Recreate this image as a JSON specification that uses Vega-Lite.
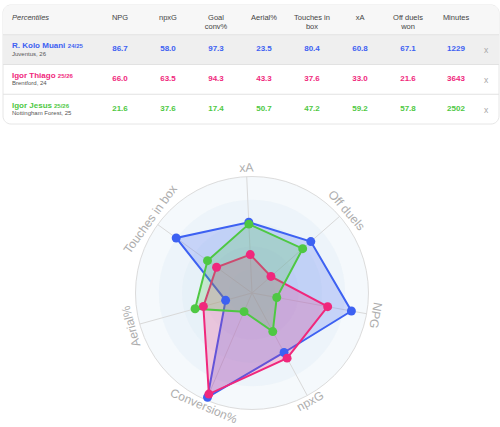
{
  "$schema": "https://vega.github.io/schema/vega-lite/v6.json",
  "padding": {"left": 2, "top": 4, "right": 2, "bottom": 0},
  "spacing": 4,
  "bounds": "flush",
  "background": "#ffffff",
  "config": {"view": {"stroke": null}, "font": "Liberation Sans", "text": {"font": "Liberation Sans"}},
  "datasets": {
    "players": [
      {"player": "R. Kolo Muani", "season": "24/25", "team": "Juventus, 26", "minutes": 1229},
      {"player": "Igor Thiago", "season": "25/26", "team": "Brentford, 24", "minutes": 3643},
      {"player": "Igor Jesus", "season": "25/26", "team": "Nottingham Forest, 25", "minutes": 2502}
    ],
    "columns": [
      {"col": "NPG", "head": "NPG"},
      {"col": "npxG", "head": "npxG"},
      {"col": "Goal conv%", "head": "Goal\nconv%"},
      {"col": "Aerial%", "head": "Aerial%"},
      {"col": "Touches in box", "head": "Touches in\nbox"},
      {"col": "xA", "head": "xA"},
      {"col": "Off duels won", "head": "Off duels\nwon"},
      {"col": "Minutes", "head": "Minutes"}
    ],
    "axes": [
      {"col": "xA", "label": "xA"},
      {"col": "Off duels won", "label": "Off duels"},
      {"col": "NPG", "label": "NPG"},
      {"col": "npxG", "label": "npxG"},
      {"col": "Goal conv%", "label": "Conversion%"},
      {"col": "Aerial%", "label": "Aerial%"},
      {"col": "Touches in box", "label": "Touches in box"}
    ],
    "stats": [
      {"player": "R. Kolo Muani", "col": "NPG", "value": 86.7},
      {"player": "R. Kolo Muani", "col": "npxG", "value": 58.0},
      {"player": "R. Kolo Muani", "col": "Goal conv%", "value": 97.3},
      {"player": "R. Kolo Muani", "col": "Aerial%", "value": 23.5},
      {"player": "R. Kolo Muani", "col": "Touches in box", "value": 80.4},
      {"player": "R. Kolo Muani", "col": "xA", "value": 60.8},
      {"player": "R. Kolo Muani", "col": "Off duels won", "value": 67.1},
      {"player": "Igor Thiago", "col": "NPG", "value": 66.0},
      {"player": "Igor Thiago", "col": "npxG", "value": 63.5},
      {"player": "Igor Thiago", "col": "Goal conv%", "value": 94.3},
      {"player": "Igor Thiago", "col": "Aerial%", "value": 43.3},
      {"player": "Igor Thiago", "col": "Touches in box", "value": 37.6},
      {"player": "Igor Thiago", "col": "xA", "value": 33.0},
      {"player": "Igor Thiago", "col": "Off duels won", "value": 21.6},
      {"player": "Igor Jesus", "col": "NPG", "value": 21.6},
      {"player": "Igor Jesus", "col": "npxG", "value": 37.6},
      {"player": "Igor Jesus", "col": "Goal conv%", "value": 17.4},
      {"player": "Igor Jesus", "col": "Aerial%", "value": 50.7},
      {"player": "Igor Jesus", "col": "Touches in box", "value": 47.2},
      {"player": "Igor Jesus", "col": "xA", "value": 59.2},
      {"player": "Igor Jesus", "col": "Off duels won", "value": 57.8}
    ],
    "rings": [{"ring": 100}, {"ring": 80}, {"ring": 60}, {"ring": 40}, {"ring": 20}]
  },
  "vconcat": [
    {
      "width": 496,
      "height": 119,
      "encoding": {
        "x": {"field": "col", "type": "nominal", "axis": null, "scale": {"type": "band", "domain": ["NPG", "npxG", "Goal conv%", "Aerial%", "Touches in box", "xA", "Off duels won", "Minutes"], "range": [93, 477], "paddingInner": 0, "paddingOuter": 0}},
        "y": {"field": "player", "type": "nominal", "axis": null, "scale": {"type": "band", "domain": ["Percentiles", "R. Kolo Muani", "Igor Thiago", "Igor Jesus"], "paddingInner": 0, "paddingOuter": 0}}
      },
      "layer": [
        {
          "data": {"values": [{"player": "Percentiles"}]},
          "mark": {"type": "rect", "fill": "#ffffff", "cornerRadius": 8, "stroke": "#e6e6e6", "strokeWidth": 1},
          "encoding": {"x": null, "y": null}
        },
        {
          "data": {"values": [{"player": "Percentiles"}]},
          "mark": {"type": "rect", "fill": "#f7f7f7", "cornerRadiusTopLeft": 8, "cornerRadiusTopRight": 8},
          "encoding": {"x": null}
        },
        {
          "data": {"name": "players"},
          "transform": [{"filter": "datum.player == 'R. Kolo Muani'"}],
          "mark": {"type": "rect", "fill": "#efefef"},
          "encoding": {"x": null}
        },
        {
          "data": {"name": "players"},
          "mark": {"type": "rule", "color": "#e2e2e2", "strokeWidth": 1},
          "encoding": {"x": null, "y": {"field": "player", "type": "nominal", "bandPosition": 0}}
        },
        {
          "data": {"name": "columns"},
          "transform": [{"calculate": "'Percentiles'", "as": "player"}],
          "mark": {"type": "text", "fontSize": 7.5, "color": "#444444", "lineBreak": "\n", "lineHeight": 9, "baseline": "middle", "dy": -2},
          "encoding": {"text": {"field": "head"}}
        },
        {
          "data": {"values": [{"player": "Percentiles"}]},
          "mark": {"type": "text", "fontSize": 7.5, "fontStyle": "italic", "color": "#444444", "align": "left", "baseline": "middle", "dy": -2},
          "encoding": {
            "x": {"datum": "NPG", "type": "nominal", "bandPosition": -1.75},
            "text": {"value": "Percentiles"}
          }
        },
        {
          "data": {"name": "stats"},
          "mark": {"type": "text", "fontSize": 8, "fontWeight": "bold", "baseline": "middle", "dy": -0.5},
          "encoding": {
            "text": {"field": "value", "type": "quantitative", "format": ".1f"},
            "color": {"field": "player", "type": "nominal", "legend": null, "scale": {"domain": ["R. Kolo Muani", "Igor Thiago", "Igor Jesus"], "range": ["#3d61f2", "#f0287c", "#4ec843"]}}
          }
        },
        {
          "data": {"name": "players"},
          "mark": {"type": "text", "fontSize": 8, "fontWeight": "bold", "baseline": "middle", "dy": -0.5},
          "encoding": {
            "x": {"datum": "Minutes", "type": "nominal"},
            "text": {"field": "minutes", "type": "quantitative", "format": "d"},
            "color": {"field": "player", "type": "nominal", "legend": null}
          }
        },
        {
          "data": {"name": "players"},
          "mark": {"type": "text", "fontSize": 8, "fontWeight": "bold", "align": "left", "baseline": "alphabetic", "dy": -1.5},
          "encoding": {
            "x": {"datum": "NPG", "type": "nominal", "bandPosition": -1.75},
            "text": {"field": "player"},
            "color": {"field": "player", "type": "nominal", "legend": null}
          }
        },
        {
          "data": {"name": "players"},
          "transform": [{"filter": "datum.player == 'R. Kolo Muani'"}],
          "mark": {"type": "text", "fontSize": 6, "fontWeight": "bold", "align": "left", "baseline": "alphabetic", "dy": -1.5, "dx": 55.8},
          "encoding": {
            "x": {"datum": "NPG", "type": "nominal", "bandPosition": -1.75},
            "text": {"field": "season"},
            "color": {"field": "player", "type": "nominal", "legend": null}
          }
        },
        {
          "data": {"name": "players"},
          "transform": [{"filter": "datum.player == 'Igor Thiago'"}],
          "mark": {"type": "text", "fontSize": 6, "fontWeight": "bold", "align": "left", "baseline": "alphabetic", "dy": -1.5, "dx": 45.8},
          "encoding": {
            "x": {"datum": "NPG", "type": "nominal", "bandPosition": -1.75},
            "text": {"field": "season"},
            "color": {"field": "player", "type": "nominal", "legend": null}
          }
        },
        {
          "data": {"name": "players"},
          "transform": [{"filter": "datum.player == 'Igor Jesus'"}],
          "mark": {"type": "text", "fontSize": 6, "fontWeight": "bold", "align": "left", "baseline": "alphabetic", "dy": -1.5, "dx": 42},
          "encoding": {
            "x": {"datum": "NPG", "type": "nominal", "bandPosition": -1.75},
            "text": {"field": "season"},
            "color": {"field": "player", "type": "nominal", "legend": null}
          }
        },
        {
          "data": {"name": "players"},
          "mark": {"type": "text", "fontSize": 6, "color": "#555555", "align": "left", "baseline": "middle", "dy": 4},
          "encoding": {
            "x": {"datum": "NPG", "type": "nominal", "bandPosition": -1.75},
            "text": {"field": "team"}
          }
        },
        {
          "data": {"name": "players"},
          "mark": {"type": "text", "fontSize": 8.5, "color": "#a8a8a8", "align": "center", "baseline": "middle", "dy": 0.5},
          "encoding": {
            "x": {"datum": "Minutes", "type": "nominal", "bandPosition": 1.125},
            "text": {"value": "x"}
          }
        }
      ]
    },
    {
      "width": 496,
      "height": 300,
      "layer": [
        {
          "data": {"name": "rings"},
          "transform": [{"calculate": "0", "as": "z"}],
          "mark": {"type": "point", "shape": "circle", "filled": true, "fill": "#d8e7f2", "opacity": 0.25, "strokeWidth": 0},
          "encoding": {
            "x": {"field": "z", "type": "quantitative", "axis": null, "scale": {"domain": [-213.73, 212.02], "nice": false, "zero": false}},
            "y": {"field": "z", "type": "quantitative", "axis": null, "scale": {"domain": [-115.88, 141.63], "nice": false, "zero": false}},
            "size": {"field": "ring", "type": "quantitative", "legend": null, "scale": {"type": "pow", "exponent": 2, "domain": [0, 100], "range": [0, 54289]}}
          }
        },
        {
          "data": {"name": "rings"},
          "transform": [{"filter": "datum.ring == 100"}, {"calculate": "0", "as": "z"}],
          "mark": {"type": "point", "shape": "circle", "filled": false, "stroke": "#dcdcdc", "strokeWidth": 1, "opacity": 1},
          "encoding": {
            "x": {"field": "z", "type": "quantitative"},
            "y": {"field": "z", "type": "quantitative"},
            "size": {"field": "ring", "type": "quantitative", "legend": null}
          }
        },
        {
          "data": {"name": "axes"},
          "transform": [
            {"calculate": "0", "as": "z"},
            {"calculate": "indexof(['xA','Off duels won','NPG','npxG','Goal conv%','Aerial%','Touches in box'], datum.col)", "as": "idx"},
            {"calculate": "(datum.idx * 360 / 7 - 2.6) * PI / 180", "as": "th"},
            {"calculate": "100 * sin(datum.th)", "as": "ex"},
            {"calculate": "100 * cos(datum.th)", "as": "ey"}
          ],
          "mark": {"type": "rule", "color": "#d9d9d9", "strokeWidth": 1},
          "encoding": {
            "x": {"field": "z", "type": "quantitative"},
            "y": {"field": "z", "type": "quantitative"},
            "x2": {"field": "ex"},
            "y2": {"field": "ey"}
          }
        },
        {
          "data": {"name": "stats"},
          "transform": [
            {"filter": "datum.player == 'R. Kolo Muani'"},
            {"calculate": "indexof(['xA','Off duels won','NPG','npxG','Goal conv%','Aerial%','Touches in box'], datum.col)", "as": "idx"},
            {"calculate": "(datum.idx * 360 / 7 - 2.6) * PI / 180", "as": "th"},
            {"calculate": "datum.value * sin(datum.th)", "as": "px"},
            {"calculate": "datum.value * cos(datum.th)", "as": "py"}
          ],
          "mark": {"type": "line", "interpolate": "linear-closed", "strokeWidth": 2, "fillOpacity": 0.22},
          "encoding": {
            "x": {"field": "px", "type": "quantitative"},
            "y": {"field": "py", "type": "quantitative"},
            "order": {"field": "idx", "type": "quantitative"},
            "stroke": {"field": "player", "type": "nominal", "legend": null, "scale": {"domain": ["R. Kolo Muani", "Igor Thiago", "Igor Jesus"], "range": ["#3d61f2", "#f0287c", "#4ec843"]}},
            "fill": {"field": "player", "type": "nominal", "legend": null, "scale": {"domain": ["R. Kolo Muani", "Igor Thiago", "Igor Jesus"], "range": ["#3d61f2", "#f0287c", "#4ec843"]}}
          }
        },
        {
          "data": {"name": "stats"},
          "transform": [
            {"filter": "datum.player == 'Igor Thiago'"},
            {"calculate": "indexof(['xA','Off duels won','NPG','npxG','Goal conv%','Aerial%','Touches in box'], datum.col)", "as": "idx"},
            {"calculate": "(datum.idx * 360 / 7 - 2.6) * PI / 180", "as": "th"},
            {"calculate": "datum.value * sin(datum.th)", "as": "px"},
            {"calculate": "datum.value * cos(datum.th)", "as": "py"}
          ],
          "mark": {"type": "line", "interpolate": "linear-closed", "strokeWidth": 2, "fillOpacity": 0.22},
          "encoding": {
            "x": {"field": "px", "type": "quantitative"},
            "y": {"field": "py", "type": "quantitative"},
            "order": {"field": "idx", "type": "quantitative"},
            "stroke": {"field": "player", "type": "nominal", "legend": null},
            "fill": {"field": "player", "type": "nominal", "legend": null}
          }
        },
        {
          "data": {"name": "stats"},
          "transform": [
            {"filter": "datum.player == 'Igor Jesus'"},
            {"calculate": "indexof(['xA','Off duels won','NPG','npxG','Goal conv%','Aerial%','Touches in box'], datum.col)", "as": "idx"},
            {"calculate": "(datum.idx * 360 / 7 - 2.6) * PI / 180", "as": "th"},
            {"calculate": "datum.value * sin(datum.th)", "as": "px"},
            {"calculate": "datum.value * cos(datum.th)", "as": "py"}
          ],
          "mark": {"type": "line", "interpolate": "linear-closed", "strokeWidth": 2, "fillOpacity": 0.22},
          "encoding": {
            "x": {"field": "px", "type": "quantitative"},
            "y": {"field": "py", "type": "quantitative"},
            "order": {"field": "idx", "type": "quantitative"},
            "stroke": {"field": "player", "type": "nominal", "legend": null},
            "fill": {"field": "player", "type": "nominal", "legend": null}
          }
        },
        {
          "data": {"name": "stats"},
          "transform": [
            {"calculate": "indexof(['xA','Off duels won','NPG','npxG','Goal conv%','Aerial%','Touches in box'], datum.col)", "as": "idx"},
            {"calculate": "(datum.idx * 360 / 7 - 2.6) * PI / 180", "as": "th"},
            {"calculate": "datum.value * sin(datum.th)", "as": "px"},
            {"calculate": "datum.value * cos(datum.th)", "as": "py"}
          ],
          "mark": {"type": "point", "shape": "circle", "filled": true, "opacity": 1, "size": 80},
          "encoding": {
            "x": {"field": "px", "type": "quantitative"},
            "y": {"field": "py", "type": "quantitative"},
            "color": {"field": "player", "type": "nominal", "legend": null, "scale": {"domain": ["R. Kolo Muani", "Igor Thiago", "Igor Jesus"], "range": ["#3d61f2", "#f0287c", "#4ec843"]}}
          }
        },
        {
          "data": {"name": "axes"},
          "transform": [
            {"calculate": "indexof(['xA','Off duels won','NPG','npxG','Goal conv%','Aerial%','Touches in box'], datum.col)", "as": "idx"},
            {"calculate": "datum.idx * 360 / 7 - 2.6", "as": "deg"},
            {"filter": "!(datum.deg > 120 && datum.deg < 240)"},
            {"calculate": "datum.deg * PI / 180", "as": "th"},
            {"calculate": "104.3 * sin(datum.th)", "as": "lx"},
            {"calculate": "104.3 * cos(datum.th)", "as": "ly"}
          ],
          "mark": {"type": "text", "fontSize": 12.2, "color": "#adadad", "align": "center", "baseline": "alphabetic"},
          "encoding": {
            "x": {"field": "lx", "type": "quantitative"},
            "y": {"field": "ly", "type": "quantitative"},
            "angle": {"field": "deg", "type": "quantitative", "scale": {"domain": [-360, 360], "range": [-360, 360]}, "legend": null},
            "text": {"field": "label"}
          }
        },
        {
          "data": {"name": "axes"},
          "transform": [
            {"calculate": "indexof(['xA','Off duels won','NPG','npxG','Goal conv%','Aerial%','Touches in box'], datum.col)", "as": "idx"},
            {"calculate": "datum.idx * 360 / 7 - 2.6", "as": "deg"},
            {"filter": "datum.deg > 120 && datum.deg < 240"},
            {"calculate": "datum.deg * PI / 180", "as": "th"},
            {"calculate": "datum.deg - 180", "as": "rot"},
            {"calculate": "101.2 * sin(datum.th)", "as": "lx"},
            {"calculate": "101.2 * cos(datum.th)", "as": "ly"}
          ],
          "mark": {"type": "text", "fontSize": 12, "color": "#adadad", "align": "center", "baseline": "top"},
          "encoding": {
            "x": {"field": "lx", "type": "quantitative"},
            "y": {"field": "ly", "type": "quantitative"},
            "angle": {"field": "rot", "type": "quantitative", "legend": null},
            "text": {"field": "label"}
          }
        }
      ]
    }
  ]
}
